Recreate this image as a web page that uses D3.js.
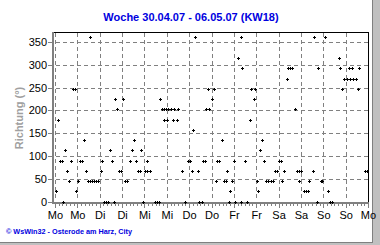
<!DOCTYPE html>
<html><head><meta charset="utf-8">
<script src="https://cdn.jsdelivr.net/npm/d3@7"></script>
<style>
html,body{margin:0;padding:0;background:#fff;}
svg{display:block;}
</style></head>
<body>
<script>
// ---- data ----
const title = "Woche 30.04.07 - 06.05.07 (KW18)";
const yTitle = "Richtung (°)";
const footer = "© WsWin32 - Osterode am Harz, City";
const dayLabels = ["Mo","Mo","Di","Di","Mi","Mi","Do","Do","Fr","Fr","Sa","Sa","So","So","Mo"];
const yTicks = [0,50,100,150,200,250,300,350];
// hours since Monday 00:00
const hours = [0.3,1.3,2.4,3.5,4.2,5.3,6.3,7.4,8.5,9.6,10.6,11.2,12.3,13.0,14.1,15.5,16.6,17.6,18.4,18.7,19.8,20.8,21.9,23.0,
24.4,24.8,26.2,27.3,28.4,29.4,30.5,31.6,32.1,33.2,34.1,35.2,36.3,37.5,38.6,40.2,41.2,42.2,43.3,44.5,45.6,46.1,47.2,47.8,
48.9,49.0,50.7,53.3,54.3,55.3,56.2,57.1,58.2,58.5,59.5,60.0,60.6,62.0,63.3,63.7,65.4,65.6,68.1,69.5,71.3,72.4,
73.3,74.0,75.1,76.3,76.9,78.5,79.4,80.4,80.8,81.8,82.3,84.2,84.9,86.3,86.9,88.0,89.1,90.2,91.4,92.3,93.3,93.9,95.0,
96.0,96.4,98.2,99.3,99.6,100.2,101.9,102.8,104.2,105.0,106.3,107.0,108.0,108.9,110.0,111.0,112.1,113.2,114.3,115.4,116.5,117.7,118.8,119.9,
121.0,121.6,122.9,124.0,125.0,126.1,127.2,128.3,128.6,129.7,130.8,130.9,132.0,133.3,134.5,135.6,135.8,138.0,139.0,140.3,141.1,142.4,143.3,
144.7,146.0,147.3,148.4,151.9,152.8,154.0,155.1,156.3,157.3,158.2,159.1,159.9,161.4,162.3,163.0,166.2,167.1];
const direction = [22.5,180,90,90,0,112.5,67.5,45,90,247.5,247.5,22.5,45,90,90,135,67.5,45,360,45,45,45,45,45,
67.5,90,0,0,0,112.5,90,0,225,202.5,67.5,67.5,225,45,45,90,112.5,135,90,67.5,67.5,112.5,0,67.5,
67.5,90,67.5,0,0,0,225,202.5,202.5,180,202.5,180,202.5,202.5,180,202.5,180,202.5,67.5,0,90,90,
67.5,157.5,360,67.5,0,0,90,90,202.5,247.5,202.5,225,247.5,45,90,90,135,45,45,67.5,0,22.5,45,
90,0,315,360,0,292.5,90,0,180,247.5,225,247.5,45,22.5,112.5,135,90,45,45,45,45,67.5,67.5,90,
90,45,67.5,270,292.5,292.5,292.5,202.5,202.5,67.5,67.5,45,67.5,22.5,22.5,22.5,45,67.5,360,0,292.5,45,45,
360,22.5,0,0,315,292.5,247.5,270,270,292.5,270,292.5,270,270,247.5,292.5,67.5,67.5];

const W = 380, H = 245;
const svg = d3.select("body").append("svg").attr("width", W).attr("height", H);

// frame
svg.append("rect").attr("x",0).attr("y",0).attr("width",W).attr("height",H).attr("fill","#c0c0c0");
svg.append("rect").attr("x",0).attr("y",0).attr("width",372).attr("height",242).attr("fill","#fff");
svg.append("line").attr("x1",372.5).attr("x2",372.5).attr("y1",0).attr("y2",243).attr("stroke","#808080");
svg.append("line").attr("x1",0).attr("x2",373).attr("y1",242.5).attr("y2",242.5).attr("stroke","#808080");

const x = d3.scaleLinear().domain([0,168]).range([55.5, 368.5]);
const y = d3.scaleLinear().domain([0,372]).range([201.7, 32]);

const font = "'Liberation Sans', Arial, sans-serif";

// title
svg.append("text").attr("x",191).attr("y",21).attr("text-anchor","middle")
  .attr("font-family",font).attr("font-weight","bold").attr("font-size","11px")
  .attr("fill","#0000e0").text(title);

// grid
const g = svg.append("g").attr("shape-rendering","crispEdges");
g.selectAll("line.hg").data(yTicks.filter(d=>d>0)).join("line")
  .attr("x1",x(0)).attr("x2",x(168)).attr("y1",d=>Math.round(y(d))+0.5).attr("y2",d=>Math.round(y(d))+0.5)
  .attr("stroke","#808080").attr("stroke-dasharray","4,3");
const vTicks = d3.range(0,168,12);
g.selectAll("line.vg").data(vTicks).join("line")
  .attr("x1",d=>Math.floor(x(d))+0.5).attr("x2",d=>Math.floor(x(d))+0.5).attr("y1",33).attr("y2",201)
  .attr("stroke","#808080").attr("stroke-dasharray","4,3");

// markers
const pts = hours.map((h,i)=>[h,direction[i]]);
const mk = svg.append("g").attr("fill","#000").attr("shape-rendering","crispEdges");
pts.forEach(([h,v])=>{
  const cx = Math.round(x(h)), cy = Math.round(y(v));
  mk.append("rect").attr("x",cx-1).attr("y",cy).attr("width",3).attr("height",1);
  mk.append("rect").attr("x",cx).attr("y",cy-1).attr("width",1).attr("height",3);
});

// border top/right
g.append("line").attr("x1",54).attr("x2",369).attr("y1",32.5).attr("y2",32.5).attr("stroke","#000");
g.append("line").attr("x1",368.5).attr("x2",368.5).attr("y1",32).attr("y2",202).attr("stroke","#000");

// axes (gray)
g.append("rect").attr("x",52).attr("y",32).attr("width",2).attr("height",172).attr("fill","#808080");
g.append("rect").attr("x",52).attr("y",202).attr("width",317).attr("height",2).attr("fill","#808080");
// x ticks
const minor = d3.range(0,169,2);
g.selectAll("line.xt").data(minor).join("line")
  .attr("x1",d=>Math.floor(x(d))+0.5).attr("x2",d=>Math.floor(x(d))+0.5)
  .attr("y1",204).attr("y2",d=>d%12===0?208:206).attr("stroke","#808080");
// y ticks
g.selectAll("line.yt").data(yTicks).join("line")
  .attr("x1",48).attr("x2",52).attr("y1",d=>Math.round(y(d))+0.5).attr("y2",d=>Math.round(y(d))+0.5)
  .attr("stroke","#808080");

// y labels
svg.selectAll("text.yl").data(yTicks).join("text")
  .attr("x",47).attr("y",d=>y(d)+4).attr("text-anchor","end")
  .attr("font-family",font).attr("font-size","11px").attr("fill","#000").text(d=>d);
// x labels
svg.selectAll("text.xl").data(dayLabels).join("text")
  .attr("x",(d,i)=>x(i*12)).attr("y",219).attr("text-anchor","middle")
  .attr("font-family",font).attr("font-size","11px").attr("fill","#000").text(d=>d);

// y title
svg.append("text").attr("transform","translate(23,118) rotate(-90)").attr("text-anchor","middle")
  .attr("font-family",font).attr("font-weight","bold").attr("font-size","11px")
  .attr("fill","#a0a0a0").text(yTitle);

// footer
svg.append("text").attr("x",6).attr("y",234)
  .attr("font-family",font).attr("font-weight","bold").attr("font-size","7px")
  .attr("textLength",126).attr("lengthAdjust","spacingAndGlyphs")
  .attr("fill","#0000e0").text(footer);
</script>
</body></html>
